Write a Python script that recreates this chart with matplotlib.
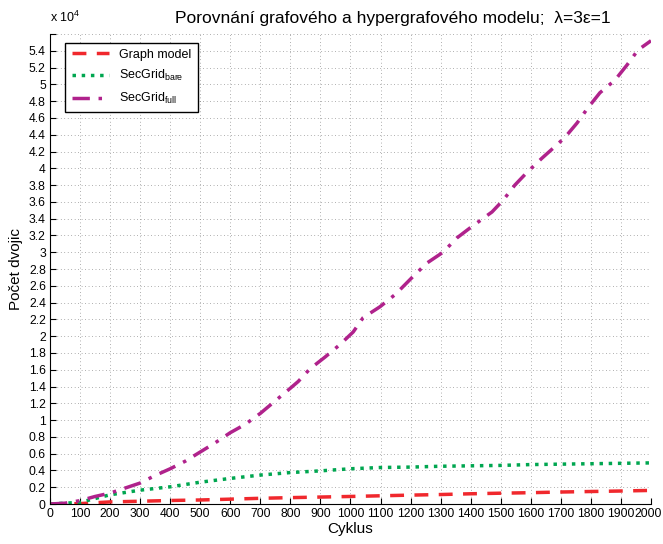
import numpy as np
import matplotlib
matplotlib.use('Agg')
import matplotlib.pyplot as plt
import matplotlib.transforms as mtransforms

plt.rcParams['font.family'] = ['Liberation Sans', 'DejaVu Sans']
plt.rcParams['mathtext.fontset'] = 'custom'
plt.rcParams['mathtext.rm'] = 'Liberation Sans'
plt.rcParams['mathtext.it'] = 'Liberation Sans:italic'

# SecGrid full (purple)
cyk_full = [0, 50, 100, 150, 200, 250, 300, 350, 400, 450, 500, 550, 600, 650, 700,
            750, 800, 826, 865, 915, 965, 1009, 1042, 1098, 1150, 1208, 1254, 1308,
            1354, 1398, 1471, 1508, 1547, 1587, 1637, 1687, 1714, 1754, 1790, 1830,
            1880, 1920, 1957, 2000]
full = [0, 100, 400, 900, 1300, 1900, 2500, 3400, 4200, 5100, 6200, 7300, 8500, 9500,
        10800, 12300, 13800, 14600, 16100, 17500, 19000, 20500, 22200, 23500, 25000,
        27100, 28700, 30000, 31700, 32900, 34800, 36200, 38000, 39500, 41200, 42800,
        43700, 45400, 47200, 49000, 50500, 52300, 54100, 55200]

cyk = [0, 100, 200, 300, 400, 500, 600, 700, 800, 900, 1000, 1100, 1200, 1300, 1400,
       1500, 1600, 1700, 1800, 1900, 2000]
bare = [0, 200, 1100, 1650, 2050, 2600, 3050, 3450, 3750, 3950, 4200, 4350, 4400,
        4500, 4550, 4600, 4700, 4750, 4800, 4850, 4900]
graph = [0, 50, 250, 330, 420, 480, 580, 680, 760, 830, 900, 980, 1060, 1130, 1220,
         1290, 1350, 1430, 1490, 1550, 1620]

fig = plt.figure(figsize=(6.63, 5.44), dpi=100)
ax = fig.add_axes([0.0754, 0.0735, 0.9065, 0.864])

ax.plot(cyk, graph, '--', color='#f0282d', lw=2.5, dashes=(4, 3), label='Graph model')
ax.plot(cyk, bare, ':', color='#00a650', lw=2.5, label='SecGrid$_{\\mathrm{bare}}$')
ax.plot(cyk_full, full, '-.', color='#b0228c', lw=2.5, dashes=(5, 2.5, 1, 2.5),
        label='SecGrid$_{\\mathrm{full}}$')

ax.set_xlim(0, 2000)
ax.set_ylim(0, 56000)
ax.set_xticks(np.arange(0, 2001, 100))
yt = np.arange(0, 56001, 2000)
ax.set_yticks(yt)
ax.set_yticklabels(['%g' % (v / 1e4) if v < 56000 else '' for v in yt])
ax.tick_params(direction='in', length=4, labelsize=8.7, pad=3)
ax.grid(True, linestyle=(0, (1, 4)), color='#666666', linewidth=0.5)
ax.spines['top'].set_visible(False)
ax.spines['right'].set_visible(False)

# keep the last x label inside the figure
last = ax.get_xticklabels()[-1]
last.set_transform(last.get_transform() +
                   mtransforms.ScaledTranslation(-3 / 100, 0, fig.dpi_scale_trans))

ax.set_xlabel('Cyklus', fontsize=11, labelpad=1)
ax.set_ylabel('Počet dvojic', fontsize=11, labelpad=4)
fig.text(393 / 663, 1 - 18 / 544, 'Porovnání grafového a hypergrafového modelu;  λ=3ε=1',
         ha='center', va='center', fontsize=12.5)
fig.text(50 / 663, 1 - 17 / 544, 'x 10$^4$', ha='left', va='center', fontsize=9)

leg = ax.legend(loc='upper left', bbox_to_anchor=(0.015, 0.995), fontsize=9,
                frameon=True, fancybox=False, edgecolor='black', framealpha=1,
                handlelength=3.0, borderpad=0.5, labelspacing=0.6)
leg.get_frame().set_linewidth(1.0)

fig.savefig('out.png', dpi=100)
